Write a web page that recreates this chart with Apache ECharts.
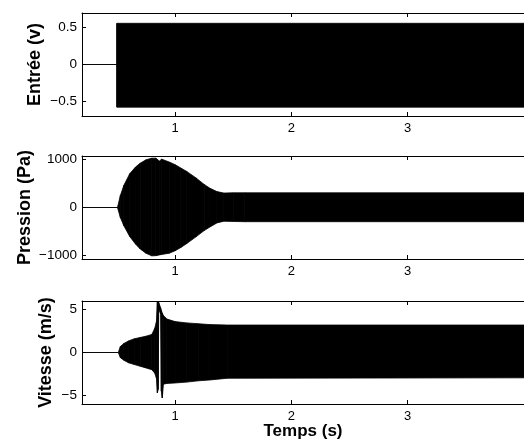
<!DOCTYPE html>
<html>
<head>
<meta charset="utf-8">
<script src="https://cdn.jsdelivr.net/npm/echarts@6/dist/echarts.min.js"></script>
<style>
  html, body { margin: 0; padding: 0; background: #fff; }
  #chart { width: 524px; height: 443px; }
</style>
</head>
<body>
<div id="chart"></div>
<script>
// envelopes of the three signals (time in s, lower / upper bound)
var entreeT  = [0.2, 0.5, 0.5, 4.0];
var entreeLo = [0, 0, -0.58, -0.58];
var entreeHi = [0, 0, 0.56, 0.56];

var pressionT  = [0.2, 0.505, 0.53, 0.56, 0.61, 0.66, 0.70, 0.75, 0.80, 0.835, 0.865, 0.885, 0.95, 1.0, 1.05, 1.10, 1.18, 1.25, 1.30, 1.36, 1.42, 1.50, 1.60, 4.0];
var pressionHi = [0, 0, 250, 460, 700, 840, 920, 990, 1025, 1025, 965, 1005, 945, 890, 820, 750, 615, 480, 400, 330, 300, 305, 305, 305];
var pressionLo = [0, 0, -210, -380, -600, -760, -860, -950, -1005, -1000, -985, -975, -950, -900, -830, -750, -610, -480, -405, -320, -285, -290, -295, -295];

var vitesseT  = [0.2, 0.512, 0.53, 0.56, 0.6, 0.65, 0.7, 0.75, 0.8, 0.825, 0.84, 0.848, 0.855, 0.86, 0.876, 0.882, 0.89, 0.9, 0.93, 1.0, 1.1, 1.2, 1.3, 1.45, 4.0];
var vitesseHi = [0, 0, 0.7, 1.05, 1.35, 1.6, 1.75, 1.9, 2.1, 2.8, 3.6, 5.9, 6.0, 5.8, 5.2, 4.9, 4.6, 4.3, 3.9, 3.6, 3.45, 3.35, 3.25, 3.2, 3.2];
var vitesseLo = [0, 0, -0.6, -0.9, -1.2, -1.4, -1.6, -1.8, -2.0, -2.4, -3.0, -4.7, -4.3, 5.0, 4.5, -4.5, -5.3, -3.7, -3.6, -3.55, -3.45, -3.3, -3.2, -3.0, -2.95];

var timeTicks = [1, 2, 3];
var entreeTicks = [-0.5, 0, 0.5];
var pressionTicks = [-1000, 0, 1000];
var vitesseTicks = [-5, 0, 5];

var FONT = 'Liberation Sans';
var tops = [13, 156, 301];

function fmt(v) { return String(v).replace('-', '\u2212'); }

function band(idx, t, lo, hi) {
  var rows = t.map(function (v, i) { return [v, lo[i], hi[i]]; });
  return {
    type: 'custom',
    xAxisIndex: idx * 2,
    yAxisIndex: idx,
    silent: true,
    encode: { x: 0, y: [1, 2] },
    data: rows,
    renderItem: function (params, api) {
      var i = params.dataIndex;
      if (i >= rows.length - 1) return null;
      var a = rows[i], b = rows[i + 1];
      var pts = [
        api.coord([a[0], a[1]]), api.coord([a[0], a[2]]),
        api.coord([b[0], b[2]]), api.coord([b[0], b[1]])
      ];
      return {
        type: 'polygon',
        shape: { points: pts },
        style: { fill: '#000', stroke: '#000', lineWidth: 0.8 }
      };
    }
  };
}

var grids = [], xAxes = [], yAxes = [];
var yDefs = [
  { name: 'Entrée (v)', min: -0.7, max: 0.7, ticks: entreeTicks, gap: 38 },
  { name: 'Pression (Pa)', min: -1070, max: 1070, ticks: pressionTicks, gap: 48 },
  { name: 'Vitesse (m/s)', min: -6, max: 6, ticks: vitesseTicks, gap: 27 }
];

yDefs.forEach(function (d, i) {
  grids.push({ left: 82, top: tops[i], width: 448, height: 103 });
  xAxes.push({
    type: 'value', gridIndex: i, min: 0.2, max: 4, position: 'bottom',
    name: i === 2 ? 'Temps (s)' : '',
    nameLocation: 'middle', nameGap: 19, nameMoveOverlap: false,
    nameTextStyle: { fontFamily: FONT, fontSize: 17, fontWeight: 'bold', color: '#000' },
    axisLine: { show: true, onZero: false, lineStyle: { color: '#000', width: 1 } },
    axisTick: { show: true, inside: true, length: 4, customValues: timeTicks, lineStyle: { color: '#000' } },
    axisLabel: { show: true, customValues: timeTicks, margin: 6, fontFamily: FONT, fontSize: 13, color: '#000' },
    splitLine: { show: false }
  });
  xAxes.push({
    type: 'value', gridIndex: i, min: 0.2, max: 4, position: 'top',
    axisLine: { show: true, onZero: false, lineStyle: { color: '#000', width: 1 } },
    axisTick: { show: true, inside: true, length: 4, customValues: timeTicks, lineStyle: { color: '#000' } },
    axisLabel: { show: false },
    splitLine: { show: false }
  });
  yAxes.push({
    type: 'value', gridIndex: i, min: d.min, max: d.max,
    name: d.name, nameLocation: 'middle', nameGap: d.gap, nameMoveOverlap: false,
    nameTextStyle: { fontFamily: FONT, fontSize: 18, fontWeight: 'bold', color: '#000' },
    axisLine: { show: true, onZero: false, lineStyle: { color: '#000', width: 1 } },
    axisTick: { show: true, inside: true, length: 4, customValues: d.ticks, lineStyle: { color: '#000' } },
    axisLabel: { show: true, customValues: d.ticks, margin: 5, fontFamily: FONT, fontSize: 13.5, color: '#000', formatter: fmt },
    splitLine: { show: false }
  });
});

var chart = echarts.init(document.getElementById('chart'), null, { renderer: 'canvas' });
chart.setOption({
  animation: false,
  backgroundColor: '#fff',
  grid: grids,
  xAxis: xAxes,
  yAxis: yAxes,
  series: [
    band(0, entreeT, entreeLo, entreeHi),
    band(1, pressionT, pressionLo, pressionHi),
    band(2, vitesseT, vitesseLo, vitesseHi)
  ]
});
</script>
</body>
</html>
